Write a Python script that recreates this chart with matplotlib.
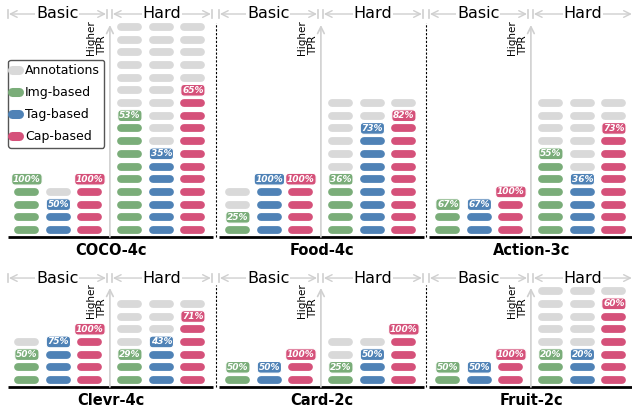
import numpy as np
import matplotlib
matplotlib.use("Agg")
import matplotlib.pyplot as plt
from matplotlib.lines import Line2D

# data: totals (annotations) and hits per method
datasets = ["COCO-4c", "Food-4c", "Action-3c", "Clevr-4c", "Card-2c", "Fruit-2c"]
basic_total = [4, 4, 3, 4, 2, 2]
hard_total = [17, 11, 11, 7, 4, 10]
basic_img = [4, 1, 2, 2, 1, 1]
basic_tag = [2, 4, 2, 3, 1, 1]
basic_cap = [4, 4, 3, 4, 2, 2]
hard_img = [9, 4, 6, 2, 1, 2]
hard_tag = [6, 8, 4, 3, 2, 2]
hard_cap = [11, 9, 8, 5, 4, 6]
methods = ["Img-based", "Tag-based", "Cap-based"]

GRAY = "#d9d9d9"
COLS = ["#7aad79", "#4f82b6", "#d5517a"]
max_rows = [17, 8]  # rows that fit in each figure row

fig = plt.figure(figsize=(6.32, 4.11), dpi=100)
W, H = 632.0, 411.0
step = 12.7  # px per pill row
colw = 31.5  # px per column
xb = [0, 1, 2]
xh = [3.27, 4.27, 5.27]
xarrow = 2.635
pill_len = 25.0 / colw
pill_lw = 7.8 * 72 / 100.0

row_geo = [(0, 237), (262, 387)]  # top px, baseline px
lefts = [8, 219, 429]

for k, name in enumerate(datasets):
    r, c = divmod(k, 3)
    top, base = row_geo[r]
    ax = fig.add_axes([lefts[c] / W, (H - base) / H, 205 / W, (base - top) / H])
    ax.set_xlim(-0.6, -0.6 + 205 / colw)
    ax.set_ylim(-0.55, -0.55 + (base - top) / step)
    ax.axis("off")

    groups = [(xb, basic_total[k], [basic_img[k], basic_tag[k], basic_cap[k]]),
              (xh, hard_total[k], [hard_img[k], hard_tag[k], hard_cap[k]])]
    for xs, tot, hits in groups:
        for j, (x, h) in enumerate(zip(xs, hits)):
            n_show = min(tot, max_rows[r])
            for i in range(n_show):
                if i < h:
                    col = COLS[j]
                elif i == h:
                    continue
                else:
                    col = GRAY
                ax.plot([x - pill_len / 2 + 0.125, x + pill_len / 2 - 0.125], [i, i],
                        color=col, lw=pill_lw, solid_capstyle="round")
            pct = round(100 * h / tot)
            if h < max_rows[r]:
                ax.text(x, h, f"{pct}%", color="white", fontsize=6.5, fontweight="bold",
                        style="italic", ha="center", va="center",
                        bbox=dict(boxstyle="round,pad=0.15,rounding_size=0.4",
                                  fc=COLS[j], ec="white", lw=0.8))

    # baseline
    ax.plot([-0.6, -0.6 + 205 / colw], [-0.55, -0.55], color="black", lw=2,
            clip_on=False, solid_capstyle="butt")
    # higher TPR arrow
    ytop = ax.get_ylim()[1] - 25 / step if r == 0 else 7.25
    ax.annotate("", xy=(xarrow, ytop), xytext=(xarrow, -0.55),
                arrowprops=dict(arrowstyle="->", color="#d0d0d0", lw=1.2,
                                shrinkA=0, shrinkB=0, mutation_scale=12))
    ty = 13.78 if r == 0 else 4.88
    ax.text(xarrow - 0.42, ty, "Higher\nTPR", rotation=90, fontsize=7.5,
            ha="center", va="bottom", multialignment="left", linespacing=1.1)
    # headers
    hy = ax.get_ylim()[1] - 14 / step if r == 0 else 8.03
    for (x0, x1, lab) in [(-0.6, 2.54, "Basic"), (2.70, 5.87, "Hard")]:
        ax.annotate("", xy=(x0 + 0.03, hy), xytext=(x1 - 0.03, hy),
                    arrowprops=dict(arrowstyle="<->", color="#cfcfcf", lw=1.0,
                                    shrinkA=0, shrinkB=0, mutation_scale=12),
                    annotation_clip=False)
        for xe in (x0, x1):
            ax.plot([xe, xe], [hy - 0.35, hy + 0.35], color="#cfcfcf", lw=1.2, clip_on=False)
        ax.text((x0 + x1) / 2, hy, lab, fontsize=11.5, ha="center", va="center",
                bbox=dict(boxstyle="square,pad=0.05", fc="white", ec="none"))
    # title
    ax.text(0.5, -13.0 / (base - top), name, transform=ax.transAxes,
            fontsize=10.5, fontweight="bold", ha="center", va="center")
    # dashed separators
    if c > 0:
        ysep0 = ax.get_ylim()[1] - 23 / step if r == 0 else 7.5
        xs_ = -0.6 - 3 / colw
        ax.plot([xs_, xs_], [-0.55, ysep0], color="black", lw=0.8, ls=(0, (2, 1.5)),
                clip_on=False)

    if k == 0:
        handles = [Line2D([0], [0], color=GRAY, lw=6.5, solid_capstyle="round")]
        handles += [Line2D([0], [0], color=cc, lw=6.5, solid_capstyle="round") for cc in COLS]
        leg = ax.legend(handles, ["Annotations"] + methods, loc="upper left",
                        bbox_to_anchor=(0, (237 - 60) / 237.0), borderaxespad=0,
                        fontsize=9, handlelength=0.5, handletextpad=0.5,
                        labelspacing=0.72, borderpad=0.35, fancybox=True,
                        framealpha=1)
        leg.get_frame().set_edgecolor("#555555")
        leg.get_frame().set_linewidth(1.0)

fig.savefig("out.png", dpi=100)
